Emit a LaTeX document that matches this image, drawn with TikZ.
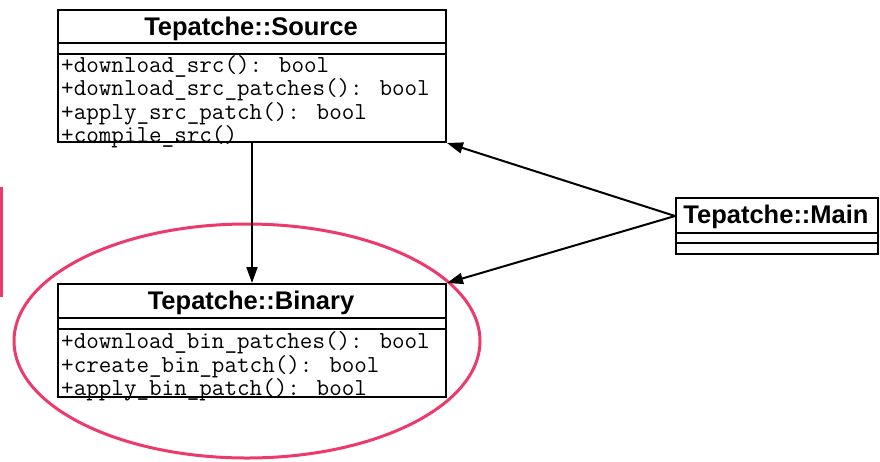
\documentclass[tikz,border=0pt]{standalone}
\usepackage{fontspec}
\setmainfont{Liberation Sans}
\usetikzlibrary{arrows.meta}
\definecolor{markpink}{HTML}{EC3A6C}
\tikzset{
  classbox/.style={draw=black, line width=2pt, fill=white, anchor=north west, inner sep=0pt},
  classtitle/.style={font=\fontsize{25.5}{30}\selectfont\bfseries, inner sep=0pt},
  members/.style={font=\ttfamily\fontsize{24.4}{20.4}\selectfont, align=left, anchor=west, inner sep=0pt},
  sepline/.style={line width=2pt},
  assoc/.style={line width=2pt, -{Triangle[length=16pt,width=11pt]}},
  highlight/.style={draw=markpink, line width=3pt}
}
\begin{document}
\begin{tikzpicture}[x=1pt,y=-1pt]
\useasboundingbox (0,0) rectangle (880,461);

% highlight ring around the Binary class
\draw[highlight] (247,341) ellipse [x radius=233pt, y radius=117pt];
\draw[highlight] (1.5,187) -- (1.5,297);

% Tepatche::Source
\node[classbox, minimum width=388pt, minimum height=132pt] (src) at (57,9) {};
\node[classtitle] (srct) at (251,28.5) {Tepatche::Source};
\draw[sepline] (57,43) -- (445,43);
\draw[sepline] (57,54) -- (445,54);
\node[members] (srcm) at (61,102) {+download\_src(): bool\\+download\_src\_patches(): bool\\+apply\_src\_patch(): bool\\+compile\_src()};

% Tepatche::Binary
\node[classbox, minimum width=388pt, minimum height=113pt] (bin) at (57,283) {};
\node[classtitle] (bint) at (251,303) {Tepatche::Binary};
\draw[sepline] (57,318) -- (445,318);
\draw[sepline] (57,329) -- (445,329);
\node[members] (binm) at (61,366.5) {+download\_bin\_patches(): bool\\+create\_bin\_patch(): bool\\+apply\_bin\_patch(): bool};

% Tepatche::Main
\node[classbox, minimum width=202pt, minimum height=56pt] (main) at (675,197) {};
\node[classtitle] (maint) at (776,216.5) {Tepatche::Main};
\draw[sepline] (675,233) -- (877,233);
\draw[sepline] (675,243) -- (877,243);

% connectors
\coordinate (mainport) at ([yshift=10pt]main.west);
\draw[assoc] (src.south) -- (bin.north);
\draw[assoc] (mainport) -- (src.south east);
\draw[assoc] (mainport) -- (bin.north east);
\end{tikzpicture}
\end{document}
